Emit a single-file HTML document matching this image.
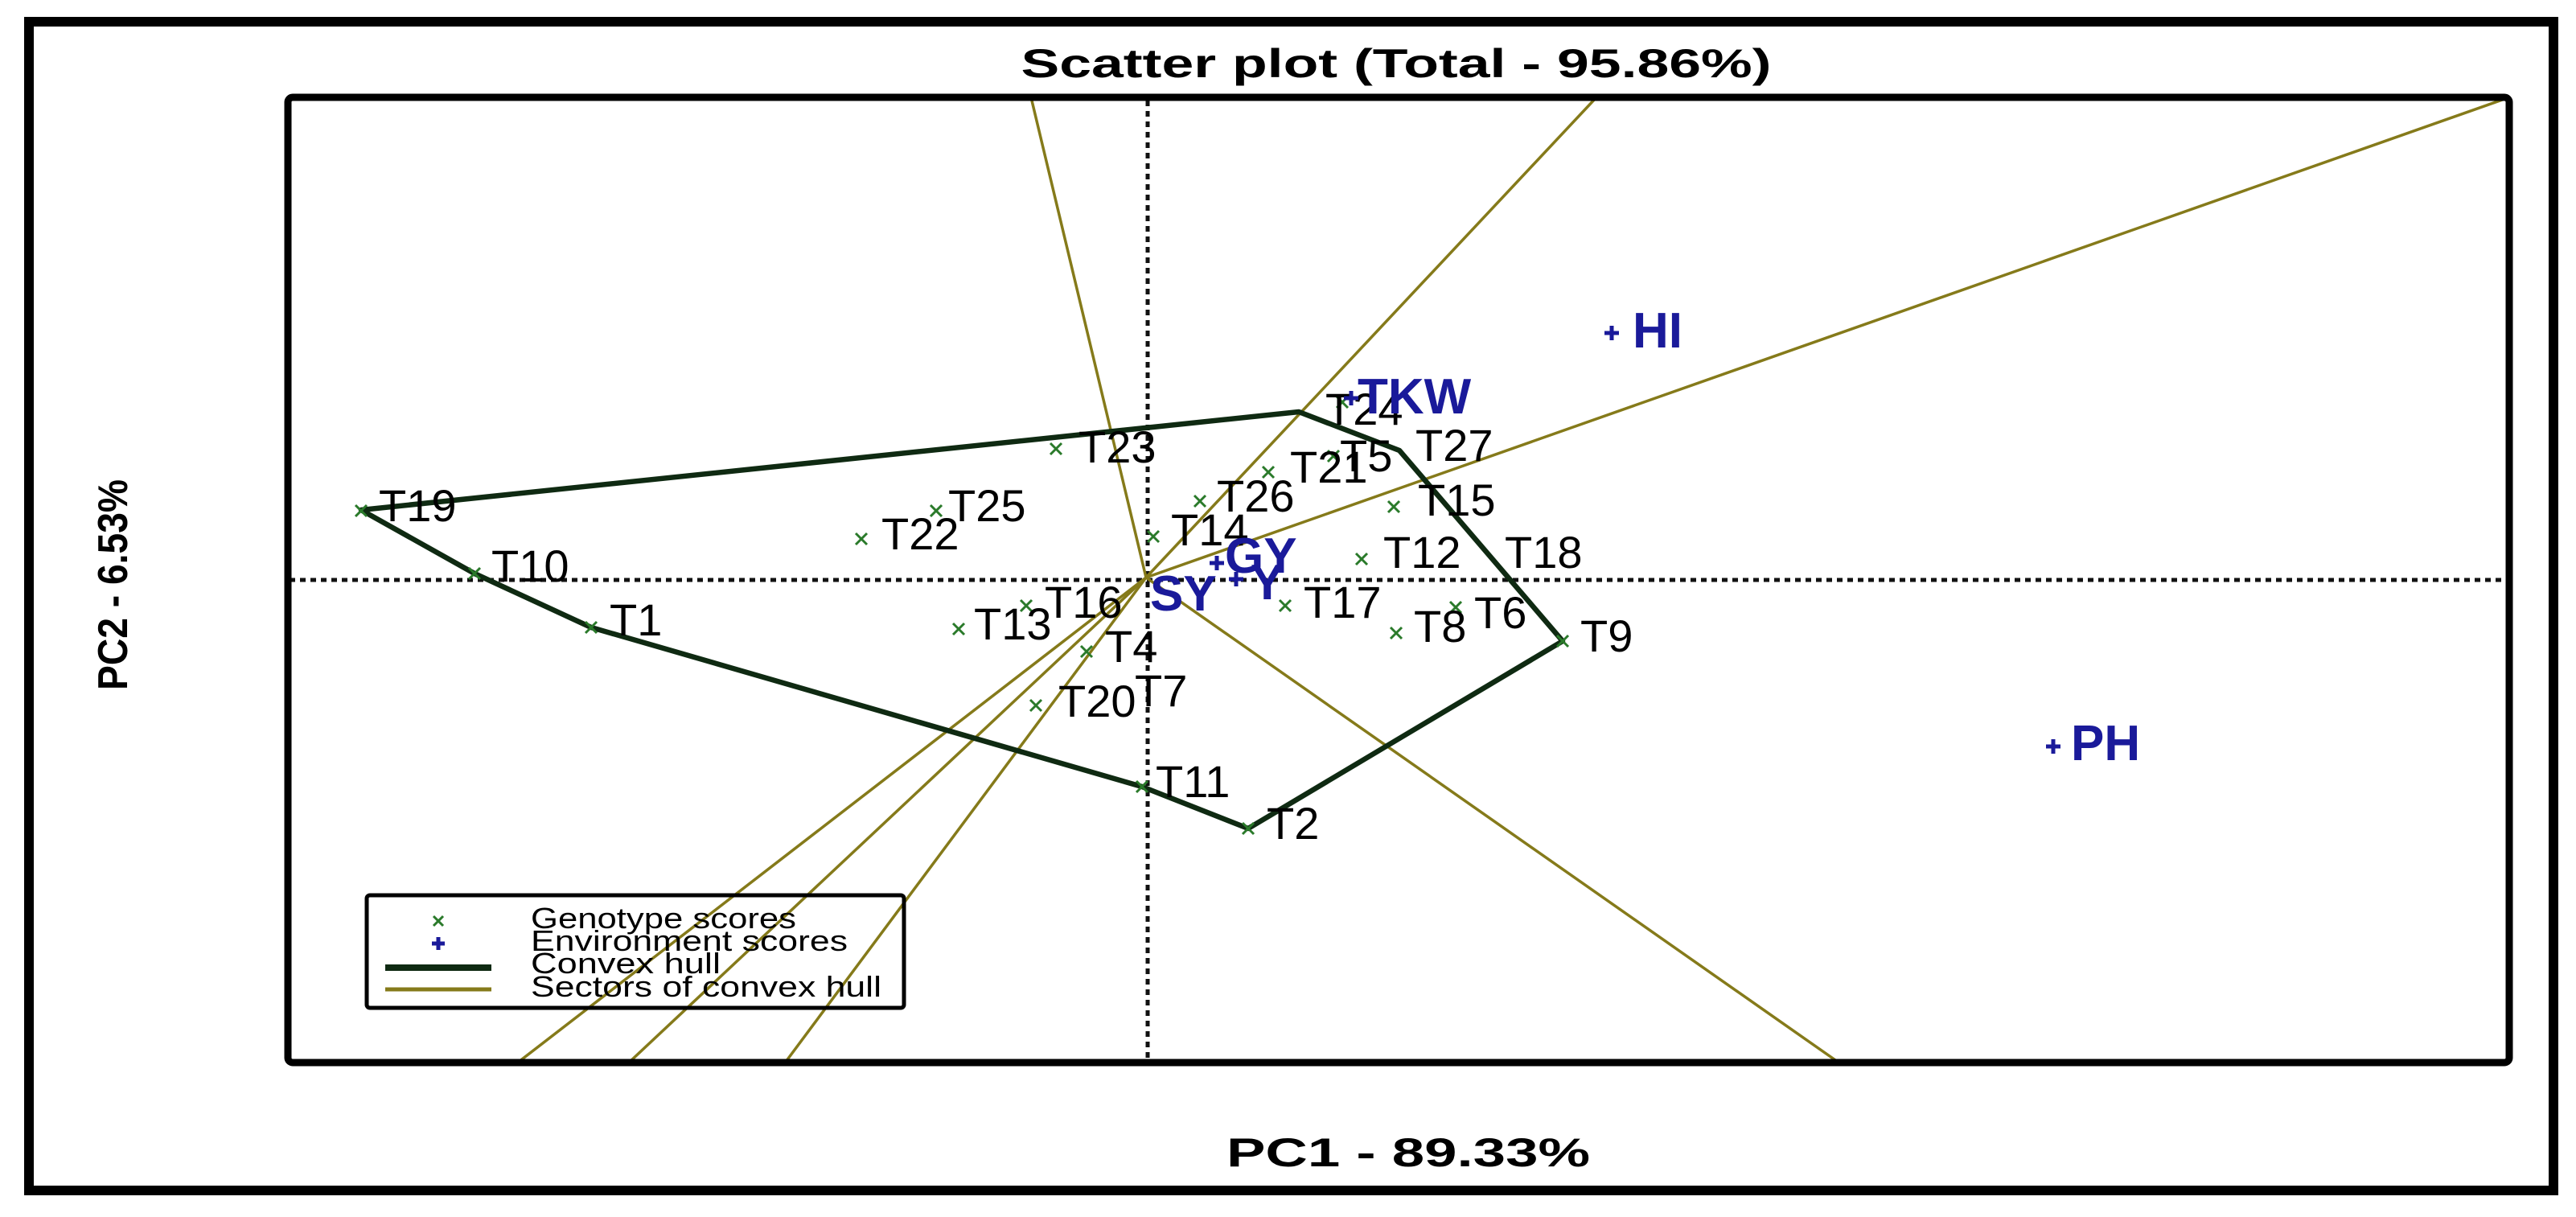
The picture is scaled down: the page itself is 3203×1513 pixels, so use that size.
<!DOCTYPE html>
<html><head><meta charset="utf-8"><style>html,body{margin:0;padding:0;background:#fff}svg{display:block}</style></head>
<body>
<svg width="3203" height="1513" viewBox="0 0 3203 1513" xmlns="http://www.w3.org/2000/svg" font-family="Liberation Sans, Arial, sans-serif">
<rect x="0" y="0" width="3203" height="1513" fill="#fff"/>
<rect x="36" y="27" width="3139" height="1453" fill="none" stroke="#000" stroke-width="12"/>
<text x="1736" y="96" font-size="50" font-weight="bold" text-anchor="middle" textLength="933" lengthAdjust="spacingAndGlyphs">Scatter plot (Total - 95.86%)</text>
<text x="0" y="0" font-size="52" font-weight="bold" text-anchor="middle" textLength="262" lengthAdjust="spacingAndGlyphs" transform="translate(158,727) rotate(-90)">PC2 - 6.53%</text>
<text x="1751" y="1450" font-size="50" font-weight="bold" text-anchor="middle" textLength="452" lengthAdjust="spacingAndGlyphs">PC1 - 89.33%</text>

<!-- axes -->
<line x1="360" y1="721" x2="3118" y2="721" stroke="#111" stroke-width="5" stroke-dasharray="7 6"/>
<line x1="1427" y1="125" x2="1427" y2="1318" stroke="#111" stroke-width="5" stroke-dasharray="7 6"/>

<!-- sector lines -->
<g stroke="#857a1a" stroke-width="3.5" fill="none">
<line x1="1425" y1="718" x2="1282" y2="121"/>
<line x1="1425" y1="718" x2="1985" y2="121"/>
<line x1="1425" y1="718" x2="3120" y2="121"/>
<line x1="1425" y1="718" x2="2285" y2="1320"/>
<line x1="1425" y1="718" x2="645" y2="1320"/>
<line x1="1425" y1="718" x2="783" y2="1320"/>
<line x1="1425" y1="718" x2="977" y2="1320"/>
</g>

<!-- convex hull -->
<polygon points="449,634 1615,512 1740,560 1943,797 1552,1030 1420,978 735,780 590,713" fill="none" stroke="#0f2a12" stroke-width="6.5" stroke-linejoin="round"/>

<!-- plot frame -->
<rect x="358" y="121" width="2762" height="1200" rx="6" fill="none" stroke="#000" stroke-width="9"/>

<!-- genotype markers -->
<g stroke="#2a7a2a" stroke-width="3">
<path d="M442,628l14,14M456,628l-14,14"/>
<path d="M583,706l14,14M597,706l-14,14"/>
<path d="M728,773l14,14M742,773l-14,14"/>
<path d="M1064,663l14,14M1078,663l-14,14"/>
<path d="M1157,628l14,14M1171,628l-14,14"/>
<path d="M1306,551l14,14M1320,551l-14,14"/>
<path d="M1185,775l14,14M1199,775l-14,14"/>
<path d="M1269,746l14,14M1283,746l-14,14"/>
<path d="M1344,803l14,14M1358,803l-14,14"/>
<path d="M1281,870l14,14M1295,870l-14,14"/>
<path d="M1413,971l14,14M1427,971l-14,14"/>
<path d="M1545,1023l14,14M1559,1023l-14,14"/>
<path d="M1427,660l14,14M1441,660l-14,14"/>
<path d="M1485,616l14,14M1499,616l-14,14"/>
<path d="M1570,580l14,14M1584,580l-14,14"/>
<path d="M1726,623l14,14M1740,623l-14,14"/>
<path d="M1686,688l14,14M1700,688l-14,14"/>
<path d="M1591,746l14,14M1605,746l-14,14"/>
<path d="M1729,780l14,14M1743,780l-14,14"/>
<path d="M1803,748l14,14M1817,748l-14,14"/>
<path d="M1936,790l14,14M1950,790l-14,14"/>
<path d="M1651,560l14,14M1665,560l-14,14"/>
<path d="M1662,493l14,14M1676,493l-14,14"/>
</g>

<!-- genotype labels -->
<g font-size="56" fill="#000">
<text x="471" y="648">T19</text>
<text x="611" y="723">T10</text>
<text x="758" y="790">T1</text>
<text x="1096" y="683">T22</text>
<text x="1179" y="648">T25</text>
<text x="1341" y="575">T23</text>
<text x="1211" y="795">T13</text>
<text x="1299" y="768">T16</text>
<text x="1374" y="823">T4</text>
<text x="1316" y="891">T20</text>
<text x="1411" y="878">T7</text>
<text x="1437" y="991">T11</text>
<text x="1575" y="1043">T2</text>
<text x="1456" y="678">T14</text>
<text x="1513" y="636">T26</text>
<text x="1604" y="600">T21</text>
<text x="1666" y="586">T5</text>
<text x="1648" y="528">T24</text>
<text x="1760" y="573">T27</text>
<text x="1763" y="641">T15</text>
<text x="1720" y="706">T12</text>
<text x="1871" y="706">T18</text>
<text x="1621" y="768">T17</text>
<text x="1758" y="798">T8</text>
<text x="1833" y="781">T6</text>
<text x="1965" y="810">T9</text>
</g>

<!-- environment markers & labels -->
<g stroke="#1a1a9a" stroke-width="5">
<path d="M1995,414h18M2004,405v18"/>
<path d="M2544,928h18M2553,919v18"/>
<path d="M1671,495h18M1680,486v18"/>
<path d="M1504,700h18M1513,691v18"/>
<path d="M1528,720h18M1537,711v18"/>
</g>
<g font-size="62" font-weight="bold" fill="#1a1a9a">
<text x="2030" y="432">HI</text>
<text x="2575" y="945">PH</text>
<text x="1688" y="514">TKW</text>
<text x="1523" y="712">GY</text>
<text x="1430" y="759">SY</text>
<text x="1555" y="745">Y</text>
</g>

<!-- legend -->
<rect x="456" y="1113" width="668" height="140" rx="4" fill="none" stroke="#000" stroke-width="5"/>
<path d="M539,1139l12,12M551,1139l-12,12" stroke="#2a7a2a" stroke-width="3"/>
<path d="M537,1173h16M545,1165v16" stroke="#1a1a9a" stroke-width="5"/>
<line x1="479" y1="1203" x2="611" y2="1203" stroke="#0f2a12" stroke-width="8"/>
<line x1="479" y1="1230" x2="611" y2="1230" stroke="#857a1a" stroke-width="5"/>
<g font-size="36" fill="#000">
<text x="660" y="1154" textLength="330" lengthAdjust="spacingAndGlyphs">Genotype scores</text>
<text x="660" y="1182" textLength="394" lengthAdjust="spacingAndGlyphs">Environment scores</text>
<text x="660" y="1210" textLength="236" lengthAdjust="spacingAndGlyphs">Convex hull</text>
<text x="660" y="1239" textLength="436" lengthAdjust="spacingAndGlyphs">Sectors of convex hull</text>
</g>
</svg>
</body></html>
